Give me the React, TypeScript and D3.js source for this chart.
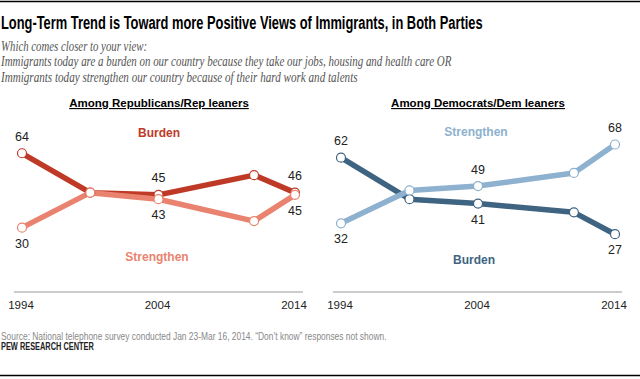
import React, { useLayoutEffect, useRef } from "react";
import * as d3 from "d3";

const years = [1994, 1999, 2004, 2011, 2014];
const repBurden = [64, 46, 45, 54, 46];
const repStrengthen = [30, 46, 43, 33, 45];
const demBurden = [62, 43, 41, 37, 27];
const demStrengthen = [32, 47, 49, 55, 68];
const tickYears = [1994, 2004, 2014];
const labelIdx = [0, 2, 4];

const title = "Long-Term Trend is Toward more Positive Views of Immigrants, in Both Parties";
const subtitle = [
  "Which comes closer to your view:",
  "Immigrants today are a burden on our country because they take our jobs, housing and health care OR",
  "Immigrants today strengthen our country because of their hard work and talents",
];
const source = "Source:  National telephone survey conducted Jan 23-Mar 16, 2014. \u201cDon\u2019t know\u201d responses not shown.";

const narrow = "'Liberation Sans Narrow', 'Arial Narrow', Arial, sans-serif";
const sans = "'Liberation Sans', Arial, sans-serif";

type Series = { name: string; values: number[]; color: string; lx: number; ly: number };

// Text squeezed horizontally to a target width (reference fonts are condensed)
function FitText({ x, y, width, children, ...rest }: any) {
  const ref = useRef<SVGTextElement>(null);
  useLayoutEffect(() => {
    const el = ref.current;
    if (!el) return;
    el.removeAttribute("transform");
    const w = el.getComputedTextLength();
    const k = w > 0 ? width / w : 1;
    el.setAttribute("transform", `translate(${x},${y}) scale(${k},1)`);
  }, [x, y, width, children]);
  return (
    <text ref={ref} x={0} y={0} transform={`translate(${x},${y})`} {...rest}>{children}</text>
  );
}

function Panel({
  heading, hx, x0, x1, axisX0, axisX1, series,
}: {
  heading: string; hx: number; x0: number; x1: number; axisX0: number; axisX1: number; series: Series[];
}) {
  const x = d3.scaleLinear().domain([1994, 2014]).range([x0, x1]);
  const y = d3.scaleLinear().domain([0, 100]).range([293.3, 74.5]);
  const line = d3.line<number>().x((_, i) => x(years[i])).y((v) => y(v));
  return (
    <g>
      <text x={hx} y={107} textAnchor="middle" fontFamily={sans} fontWeight="bold" fontSize={11.5}
        textDecoration="underline" fill="#000">{heading}</text>
      <line x1={axisX0} x2={axisX1} y1={292} y2={292} stroke="#999" strokeWidth={1} />
      {tickYears.map((t) => (
        <text key={t} x={x(t) - 1} y={309} textAnchor="middle" fontFamily={sans} fontSize={11.5} fill="#222">{t}</text>
      ))}
      {series.map((s) => (
        <path key={s.name} d={line(s.values) || ""} fill="none" stroke={s.color} strokeWidth={5.5}
          strokeLinejoin="round" />
      ))}
      {series.map((s) =>
        s.values.map((v, i) => (
          <circle key={s.name + i} cx={x(years[i])} cy={y(v)} r={4.5} fill="#fff" stroke={s.color} strokeWidth={1.2} />
        ))
      )}
      {series.map((s, si) =>
        labelIdx.map((i) => {
          const other = series[1 - si].values[i];
          const above = s.values[i] >= other;
          const cy = y(s.values[i]) + (above ? -17 : 15.5);
          return (
            <text key={s.name + "l" + i} x={x(years[i])} y={cy + 4.5} textAnchor="middle" fontFamily={sans}
              fontSize={12.5} fill="#222">{s.values[i]}</text>
          );
        })
      )}
      {series.map((s) => (
        <text key={s.name + "n"} x={s.lx} y={s.ly + 4.5} textAnchor="middle" fontFamily={sans} fontWeight="bold"
          fontSize={12} fill={s.color}>{s.name}</text>
      ))}
    </g>
  );
}

export default function App() {
  return (
    <svg width={640} height={379} style={{ position: "absolute", left: 0, top: 0, background: "#fff" }}>
      <rect width={640} height={379} fill="#fff" />
      <line x1={0} x2={640} y1={1.5} y2={1.5} stroke="#000" strokeWidth={1.5} />
      <FitText x={1} y={29} width={482} fontFamily={narrow} fontWeight="bold" fontSize={18.5} fill="#000">{title}</FitText>
      {subtitle.map((s, i) => (
        <FitText key={i} x={1} y={50.5 + i * 15.5} width={[146, 451, 357][i]}
          fontFamily="'Liberation Serif', 'Times New Roman', serif"
          fontStyle="italic" fontSize={14} fill="#555">{s}</FitText>
      ))}
      <Panel heading="Among Republicans/Rep leaners" hx={159} x0={22} x1={295} axisX0={14} axisX1={303}
        series={[
          { name: "Burden", values: repBurden, color: "#BE3A26", lx: 159, ly: 132 },
          { name: "Strengthen", values: repStrengthen, color: "#E9836F", lx: 157, ly: 256 },
        ]} />
      <Panel heading="Among Democrats/Dem leaners" hx={478} x0={341} x1={615} axisX0={333} axisX1={622}
        series={[
          { name: "Burden", values: demBurden, color: "#3F6482", lx: 474, ly: 259 },
          { name: "Strengthen", values: demStrengthen, color: "#8DB1CE", lx: 476, ly: 131 },
        ]} />
      <FitText x={1} y={339.5} width={386} fontFamily={narrow} fontSize={11} fill="#888">{source}</FitText>
      <FitText x={1} y={350} width={93} fontFamily={narrow} fontWeight="bold" fontSize={10} fill="#222">PEW RESEARCH CENTER</FitText>
      <line x1={0} x2={640} y1={375.5} y2={375.5} stroke="#000" strokeWidth={1.5} />
    </svg>
  );
}
